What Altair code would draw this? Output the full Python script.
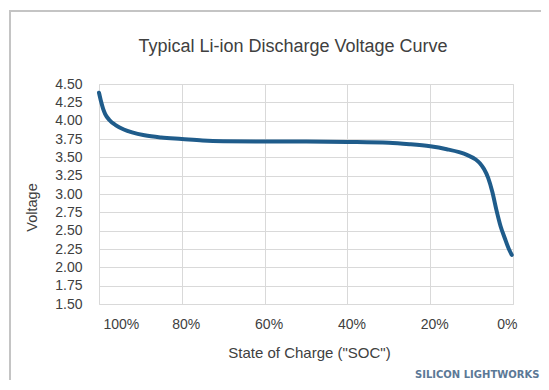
import altair as alt
import pandas as pd

# Data
soc = [100, 99.5, 99, 98.5, 97.5, 96, 94, 92, 89, 85, 80, 75, 70, 60, 50, 40, 30, 25,
       20, 16, 13, 11, 9, 8, 7, 6, 5, 4, 3, 2, 1, 0.3]
voltage = [4.38, 4.26, 4.16, 4.09, 4.01, 3.94, 3.88, 3.84, 3.80, 3.77, 3.75, 3.73, 3.72,
           3.715, 3.715, 3.71, 3.70, 3.68, 3.65, 3.61, 3.57, 3.53, 3.47, 3.42, 3.34, 3.22,
           3.03, 2.78, 2.56, 2.40, 2.25, 2.17]
x_ticks = [100, 80, 60, 40, 20, 0]
y_ticks = [1.5, 1.75, 2.0, 2.25, 2.5, 2.75, 3.0, 3.25, 3.5, 3.75, 4.0, 4.25, 4.5]

title_text = "Typical Li-ion Discharge Voltage Curve"
x_title = 'State of Charge ("SOC")'
y_title = "Voltage"
watermark = "SILICON LIGHTWORKS"

df = pd.DataFrame({"soc": soc, "v": voltage})
one = pd.DataFrame({"k": [0]})

FONT = "Liberation Sans"
TXT = "#404040"
GRID = "#d9d9d9"

line = alt.Chart(df).mark_line(
    color="#1f5c8b", strokeWidth=4, interpolate="monotone", strokeCap="round"
).encode(
    x=alt.X(
        "soc:Q",
        scale=alt.Scale(domain=[100, 0], nice=False, zero=False),
        axis=alt.Axis(
            values=x_ticks,
            labelExpr="datum.value + '%'",
            title=x_title,
            grid=True,
            gridColor=GRID,
            domain=False,
            ticks=False,
            labelPadding=13,
            labelOffset=4,
            labelFont=FONT,
            labelFontSize=14,
            labelColor=TXT,
            titleFont=FONT,
            titleFontSize=15,
            titleFontWeight="normal",
            titleColor=TXT,
            titleX=210,
            titleY=48,
            titleBaseline="middle",
            titleAlign="center",
        ),
    ),
    y=alt.Y(
        "v:Q",
        scale=alt.Scale(domain=[1.5, 4.5], nice=False, zero=False),
        axis=alt.Axis(
            values=y_ticks,
            format=".2f",
            title=y_title,
            grid=True,
            gridColor=GRID,
            domain=False,
            ticks=False,
            labelPadding=17,
            labelFont=FONT,
            labelFontSize=14,
            labelColor=TXT,
            titleFont=FONT,
            titleFontSize=14.5,
            titleFontWeight="normal",
            titleColor=TXT,
            titleX=-67,
            titleY=123,
            titleBaseline="middle",
            titleAlign="center",
        ),
    ),
)

frame_left = alt.Chart(one).mark_rule(color="#c4c4c4", strokeWidth=2).encode(
    x=alt.value(-89), y=alt.value(-73), y2=alt.value(300)
)
frame_top = alt.Chart(one).mark_rule(color="#c4c4c4", strokeWidth=2).encode(
    x=alt.value(-90), x2=alt.value(450), y=alt.value(-73)
)
title_mark = alt.Chart(one).mark_text(
    text=title_text, font=FONT, fontSize=18, color=TXT,
    align="center", baseline="middle",
).encode(x=alt.value(194), y=alt.value(-37))
mark_text = alt.Chart(one).mark_text(
    text=watermark, font="DejaVu Sans", fontWeight="bold", fontSize=10,
    color="#5b7896", align="left", baseline="middle",
).encode(x=alt.value(316), y=alt.value(291))

chart = alt.layer(frame_left, frame_top, line, title_mark, mark_text).properties(
    width=414,
    height=220,
    autosize=alt.AutoSizeParams(type="none"),
    padding={"left": 91, "top": 76, "right": 28, "bottom": 76},
).configure_view(stroke="#cfcfcf", strokeWidth=1).configure(background="white")

chart.save("out.html", embed_options={"renderer": "svg", "actions": False})
